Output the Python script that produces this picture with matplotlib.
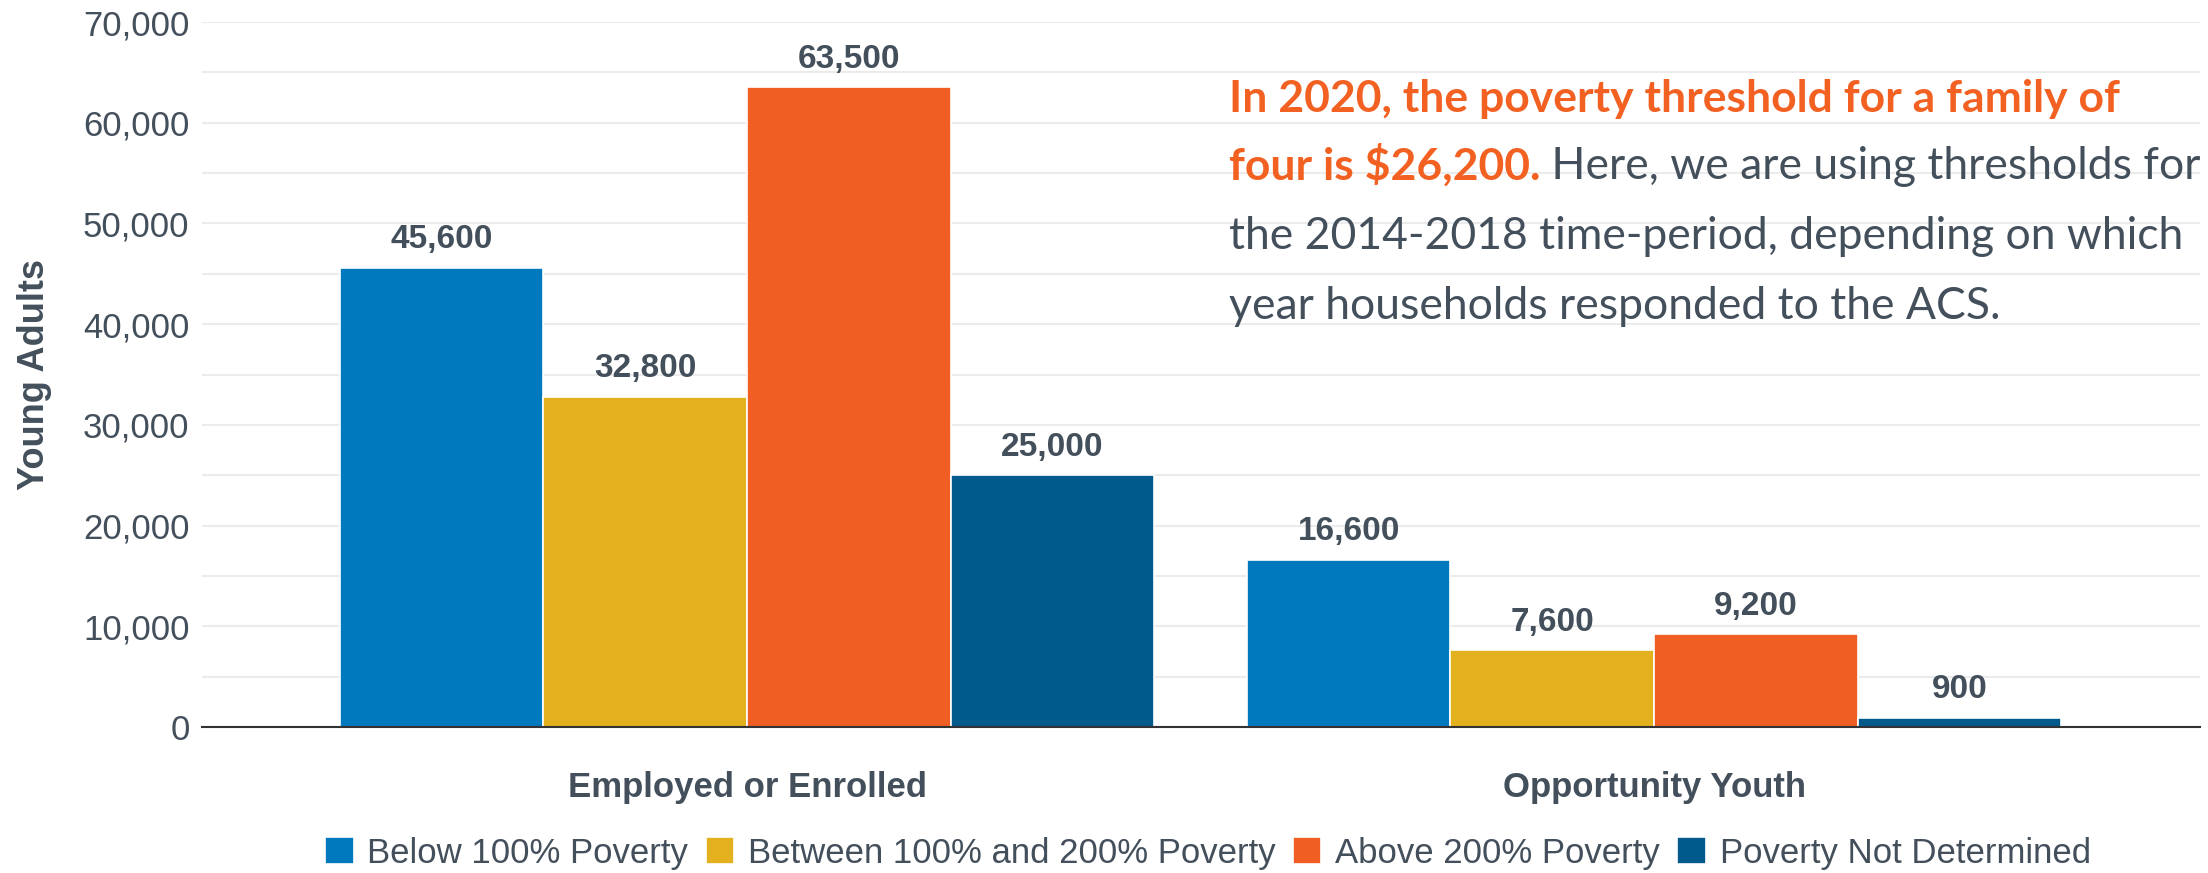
"""
Young adults by poverty status, grouped bars with an annotation block.
Output: out.png (2208 x 873)
"""
import matplotlib

matplotlib.use("Agg")
import matplotlib.pyplot as plt
import numpy as np
from matplotlib.ticker import FuncFormatter, MultipleLocator

categories = ["Employed or Enrolled", "Opportunity Youth"]
series = ["Below 100% Poverty", "Between 100% and 200% Poverty",
          "Above 200% Poverty", "Poverty Not Determined"]
values = [
    [45600, 16600],
    [32800, 7600],
    [63500, 9200],
    [25000, 900],
]
colors = ["#0079BE", "#E2B11D", "#F05E23", "#005A8C"]

TEXT = "#434F5B"
ORANGE = "#F26122"

plt.rcParams["font.family"] = ["Liberation Sans", "DejaVu Sans"]

fig = plt.figure(figsize=(22.08, 8.73), dpi=100)
ax = fig.add_axes([202 / 2208, 1 - 727 / 873, (2200 - 202) / 2208, (727 - 22) / 873])

x = np.arange(len(categories))
w = 0.2245
for i, (name, vals) in enumerate(zip(series, values)):
    xs = x + (i - 1.5) * w
    bars = ax.bar(xs, vals, width=w, color=colors[i], edgecolor="white",
                  linewidth=1.2, label=name, zorder=3)
    for b, v in zip(bars, vals):
        ax.annotate(f"{v:,}", (b.get_x() + b.get_width() / 2, v),
                    xytext=(0, 9), textcoords="offset points",
                    ha="center", va="bottom", fontsize=24, fontweight="bold",
                    color=TEXT, zorder=4)

ax.set_xlim(-0.601, 1.602)
ax.set_ylim(0, 70000)
ax.yaxis.set_major_locator(MultipleLocator(10000))
ax.yaxis.set_minor_locator(MultipleLocator(5000))
ax.yaxis.set_major_formatter(FuncFormatter(lambda v, p: f"{int(v):,}"))
ax.grid(axis="y", which="both", color="#EBEBEB", linewidth=1.5, zorder=0)
ax.set_axisbelow(True)
for s in ["top", "right", "left"]:
    ax.spines[s].set_visible(False)
ax.spines["bottom"].set_color("#333333")
ax.spines["bottom"].set_linewidth(1.5)
ax.spines["bottom"].set_zorder(5)

ax.tick_params(axis="y", which="both", length=0, pad=9, labelsize=25, labelcolor=TEXT)
ax.tick_params(axis="x", length=0, pad=32, labelsize=25, labelcolor=TEXT)
ax.set_xticks(x)
ax.set_xticklabels(categories, fontweight="bold")
ax.set_ylabel("Young Adults", fontsize=26, fontweight="bold", color=TEXT, labelpad=22)

leg = fig.legend(loc="center", bbox_to_anchor=(1208 / 2208, 1 - 853 / 873), ncol=4,
                 frameon=False, fontsize=25, handlelength=0.82, handleheight=0.82,
                 handletextpad=0.4, columnspacing=0.5, labelcolor=TEXT)

# annotation block
left = 1229 / 2208
bases = [112, 180, 249, 319]
fs = 32
fam = ["Lato", "DejaVu Sans"]
fig.text(left, 1 - bases[0] / 873, "In 2020, the poverty threshold for a family of",
         fontsize=fs, fontweight="bold", color=ORANGE, family=fam, va="baseline")
t2 = fig.text(left, 1 - bases[1] / 873, "four is $26,200.", fontsize=fs,
              fontweight="bold", color=ORANGE, family=fam, va="baseline")
fig.canvas.draw()
ax.annotate(" Here, we are using thresholds for", xy=(1, 0), xycoords=t2,
            fontsize=fs, color=TEXT, family=fam, va="bottom", ha="left",
            annotation_clip=False)
fig.text(left, 1 - bases[2] / 873, "the 2014-2018 time-period, depending on which",
         fontsize=fs, color=TEXT, family=fam, va="baseline")
fig.text(left, 1 - bases[3] / 873, "year households responded to the ACS.",
         fontsize=fs, color=TEXT, family=fam, va="baseline")

fig.savefig("out.png", dpi=100)
